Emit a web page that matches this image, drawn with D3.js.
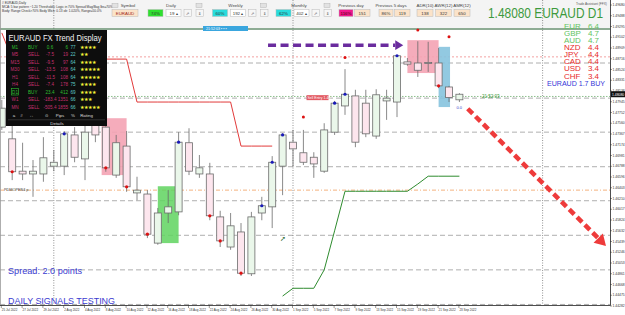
<!DOCTYPE html>
<html lang="en">
<head>
<meta charset="utf-8">
<title>EURAUD D1</title>
<script src="https://d3js.org/d3.v7.min.js"></script>
<style>
  body { margin: 0; background: #fff; }
  #chart1 { width: 625px; height: 315px; }
  svg text { font-family: "Liberation Sans", Arial, sans-serif; }
</style>
</head>
<body>
<div id="chart1"></div>

<script>
    const chartApp = {}

    // daily bars, 25 Jul 2022 .. 23 Sep 2022 (one label every second bar)
    const dateLabels = ["25 Jul 2022","27 Jul 2022","29 Jul 2022","2 Aug 2022","4 Aug 2022","8 Aug 2022",
        "10 Aug 2022","12 Aug 2022","16 Aug 2022","18 Aug 2022","22 Aug 2022","24 Aug 2022","26 Aug 2022",
        "30 Aug 2022","1 Sep 2022","5 Sep 2022","7 Sep 2022","9 Sep 2022","13 Sep 2022","15 Sep 2022",
        "19 Sep 2022","21 Sep 2022","23 Sep 2022"]

    const opens  = [1.4749,1.4728,1.4670,1.4665,1.4665,1.4679,1.4679,1.4735,1.4692,1.4753,1.4749,1.4663,1.4715,1.4631,1.4629,
                    1.4541,1.4595,1.4597,1.4721,1.4665,1.4665,1.4588,1.4534,1.4561,1.4486,1.4595,1.4606,1.4679,1.4722,1.4703,
                    1.4695,1.4670,1.4740,1.4787,1.4805,1.4792,1.4733,1.4796,1.4794,1.4866,1.4864,1.4865,1.4864,1.4821,1.4798]
    const highs  = [1.4798,1.4755,1.4721,1.4690,1.4731,1.4708,1.4742,1.4749,1.4751,1.4765,1.4762,1.4735,1.4742,1.4660,1.4636,
                    1.4604,1.4636,1.4740,1.4747,1.4699,1.4685,1.4599,1.4595,1.4577,1.4597,1.4624,1.4697,1.4738,1.4744,1.4744,
                    1.4704,1.4756,1.4796,1.4853,1.4816,1.4816,1.4817,1.4816,1.4878,1.4873,1.4903,1.4902,1.4891,1.4823,1.4810]
    const lows   = [1.4744,1.4654,1.4654,1.4624,1.4651,1.4670,1.4663,1.4686,1.4654,1.4722,1.4669,1.4658,1.4633,1.4618,1.4550,
                    1.4538,1.4577,1.4591,1.4663,1.4658,1.4582,1.4534,1.4529,1.4482,1.4482,1.4582,1.4568,1.4627,1.4678,1.4681,
                    1.4658,1.4667,1.4735,1.4771,1.4713,1.4731,1.4728,1.4762,1.4767,1.4859,1.4839,1.4848,1.4819,1.4794,1.4794]
    const closes = [1.4783,1.4669,1.4665,1.4670,1.4694,1.4686,1.4737,1.4695,1.4740,1.4735,1.4676,1.4721,1.4642,1.4636,1.4557,
                    1.4595,1.4606,1.4722,1.4670,1.4676,1.4590,1.4545,1.4572,1.4487,1.4588,1.4608,1.4686,1.4735,1.4710,1.4686,
                    1.4683,1.4744,1.4792,1.4808,1.4722,1.4737,1.4807,1.4801,1.4877,1.4862,1.4851,1.4863,1.4823,1.4802,1.4808]

    // signal dots (bar indexes) - blue on bullish closes, red on bearish closes
    const buyDots  = [6,17,25,26,27,32,33,38]
    const sellDots = [1,10,12,14,20,21,23,42]
    const extraDotBars   = [29,33,40,43]
    const extraDotPrices = [1.4767,1.4874,1.4923,1.4911]

    // trailing stop lines, one value per bar (null = no value)
    const redStop = [1.4918,1.4871,1.4871,1.4871,1.4871,1.4871,1.4871,1.4871,1.4871,1.4871,1.4871,1.4871,1.4871,
                     1.4794,1.4794,1.4794,1.4794,1.4794,1.4794,1.4794,1.4794,1.4794,1.4794,1.4715,1.4715,1.4715,1.4715]
    const greenStopStart = 27
    const greenStop = [1.4446,1.4460,1.4460,1.4460,1.4493,1.4563,1.4634,1.4634,1.4634,1.4634,1.4634,1.4634,1.4634,
                       1.4647,1.4661,1.4661,1.4661,1.4661]

    // boxes: bar range + price range
    const zoneKinds  = ["sell","buy","sell","blue"]
    const zoneStart  = [9.6,15,39,42]
    const zoneEnd    = [12,17,42,43.1]
    const zoneTop    = [1.4765,1.4643,1.4905,1.4893]
    const zoneBottom = [1.4663,1.4541,1.4846,1.4785]

    // horizontal levels
    const gridLevels = [1.4864,1.4801,1.4740,1.4678,1.4617,1.4555,1.4493,1.4431]
    const topLevel = 1.4925
    const pinkLevel = 1.4875
    const bidLevel = 1.4804
    const pdOpenLevel = 1.4636
    const sellEntryLevel = 1.4801
    const monthBars = [5,28,52]
    const lastPrice = 1.48080

    // arrows [bar, price] -> [bar, price]
    const purpleArrow = [[25.6,1.4896],[38.6,1.4896]]
    const redArrow = [[44.8,1.4782],[58.1,1.4536]]

    const priceTicks = [1.44282,1.44475,1.44668,1.44861,1.45053,1.45246,1.45439,1.45632,1.45824,1.46017,
                        1.46210,1.46403,1.46596,1.46788,1.46981,1.47174,1.47367,1.47560,1.47752,1.47945,
                        1.48138,1.48331,1.48524,1.48716,1.48909,1.49102,1.49295,1.49488,1.49680]

    // currency strength list
    const currencies = ["EUR","GBP","AUD","NZD","JPY","CAD","USD","CHF"]
    const strengths  = [6.4,4.7,4.7,4.4,4.4,4.4,3.4,3.4]

    // trend display panel
    const tfNames   = ["M1","M5","M15","M30","H1","H4","D1","W1","MN"]
    const tfSignals = ["BUY","SELL","SELL","SELL","SELL","SELL","BUY","SELL","SELL"]
    const tfPips    = ["0.6","-7.5","-9.5","-13.5","-11.5","-7.4","23.4","-183.4","-505.4"]
    const tfRange   = ["6","19","97","108","108","178","412","1351","1855"]
    const tfPct     = ["77","22","64","64","64","75","69","66","66"]
    const tfStars   = [4,2,4,5,5,4,4,3,5]

    // top toolbar
    const infoLines = ["# EURAUD,Daily",
        "MCA: 5 bar pattern ~1.20 Thresholds: Logic in 70% Spread Mag/Bag Ibs=70%",
        "Body: Range Check>70% Body Wick: 0.13 ob: 1.020%, Range=50.0%"]
    const periodNames = ["Daily","Weekly","Monthly"]
    const periodPct   = ["74%","60%","62%"]
    const periodBars  = ["19","192","402"]
    const prevNames = ["Previous day","Previous 5 days"]
    const prevPct   = ["116%","86%"]
    const prevPips  = ["151","119"]
    const rangeNames = ["ADR(10)","AWR(12)","AMR(12)"]
    const rangeVals  = ["138","322","650"]


    chartApp.buildChart = () => {

        d3.select('#chart1').html('')
        var W = 625, H = 315

        var svg = d3.select("#chart1")
            .append("svg")
            .attr("width", W)
            .attr("height", H)

        var plotRight = 610, plotBottom = 305

        var x = d3.scaleLinear().domain([0, 44]).range([1.8, 459.4])
        var y = d3.scaleLinear().domain([1.4430, 1.4977]).range([plotBottom, 0])

        svg.append("rect").attr("width", W).attr("height", H).attr("fill", "#fff")
        svg.append("rect").attr("width", plotRight).attr("height", 28).attr("fill", "#f4f4f4")

        var plot = svg.append("g")

        // grid
        plot.selectAll(".grid").data(gridLevels).enter().append("line")
            .attr("x1", 0).attr("x2", plotRight)
            .attr("y1", d => y(d)).attr("y2", d => y(d))
            .attr("stroke", "#9a9a9a").attr("stroke-width", 0.8).attr("stroke-dasharray", "5,3")

        plot.selectAll(".sep").data(monthBars).enter().append("line")
            .attr("x1", d => x(d)).attr("x2", d => x(d))
            .attr("y1", 0).attr("y2", plotBottom)
            .attr("stroke", "#666").attr("stroke-width", 0.7).attr("stroke-dasharray", "1,1.5")

        // levels
        var level = (p, col, dash, w) => plot.append("line")
            .attr("x1", 0).attr("x2", plotRight).attr("y1", y(p)).attr("y2", y(p))
            .attr("stroke", col).attr("stroke-width", w).attr("stroke-dasharray", dash)
        level(topLevel, "#1f5a2a", null, 1.2)
        level(pinkLevel, "#f08a8a", "2,2", 0.8)
        level(bidLevel, "#6fae6f", "1.5,1.5", 0.8)
        level(pdOpenLevel, "#f0a060", "4,2,1,2", 0.8)

        // zones
        var zoneFill = {sell: "#f4a3b4", buy: "#5fd35f", blue: "#86c3de"}
        plot.selectAll(".zone").data(zoneKinds).enter().append("rect")
            .attr("x", (d, i) => x(zoneStart[i]))
            .attr("width", (d, i) => x(zoneEnd[i]) - x(zoneStart[i]))
            .attr("y", (d, i) => y(zoneTop[i]))
            .attr("height", (d, i) => y(zoneBottom[i]) - y(zoneTop[i]))
            .attr("fill", d => zoneFill[d])
            .attr("opacity", d => d == "buy" ? 0.85 : 0.9)

        // stop lines
        var stopLine = d3.line()
            .defined(d => d[1] != null)
            .x(d => x(d[0])).y(d => y(d[1]))
        plot.append("path")
            .attr("d", stopLine(redStop.map((v, i) => [i, v])))
            .attr("fill", "none").attr("stroke", "#e23a3a").attr("stroke-width", 1)
        plot.append("path")
            .attr("d", stopLine(greenStop.map((v, i) => [greenStopStart + i, v])))
            .attr("fill", "none").attr("stroke", "#2e8b2e").attr("stroke-width", 1)

        // candles
        var bars = opens.map((o, i) => ({i: i, o: o, h: highs[i], l: lows[i], c: closes[i]}))
        var cg = plot.append("g")
        cg.selectAll(".wick").data(bars).enter().append("line")
            .attr("x1", d => x(d.i)).attr("x2", d => x(d.i))
            .attr("y1", d => y(d.h)).attr("y2", d => y(d.l))
            .attr("stroke", "#6b6b6b").attr("stroke-width", 0.8)
        cg.selectAll(".body").data(bars).enter().append("rect")
            .attr("x", d => x(d.i) - 3.5).attr("width", 7)
            .attr("y", d => y(Math.max(d.o, d.c)))
            .attr("height", d => Math.max(1, Math.abs(y(d.o) - y(d.c))))
            .attr("fill", d => d.c >= d.o ? "#eaf7ea" : "#fde6ee")
            .attr("stroke", "#6b6b6b").attr("stroke-width", 0.8)

        // dots
        plot.selectAll(".bdot").data(buyDots).enter().append("circle")
            .attr("cx", d => x(d)).attr("cy", d => y(closes[d])).attr("r", 1.6).attr("fill", "#1a1ab8")
        plot.selectAll(".sdot").data(sellDots).enter().append("circle")
            .attr("cx", d => x(d)).attr("cy", d => y(closes[d])).attr("r", 1.6).attr("fill", "#dd1111")
        plot.selectAll(".xdot").data(extraDotBars).enter().append("circle")
            .attr("cx", d => x(d)).attr("cy", (d, i) => y(extraDotPrices[i])).attr("r", 1.5).attr("fill", "#dd1111")

        // dashed arrows
        var drawArrow = (pts, col, w, dash, head) => {
            var x0 = x(pts[0][0]), y0 = y(pts[0][1]), x1 = x(pts[1][0]), y1 = y(pts[1][1])
            var len = Math.hypot(x1 - x0, y1 - y0), ux = (x1 - x0) / len, uy = (y1 - y0) / len
            var bx = x1 - ux * head, by = y1 - uy * head
            plot.append("line").attr("x1", x0).attr("y1", y0).attr("x2", bx).attr("y2", by)
                .attr("stroke", col).attr("stroke-width", w).attr("stroke-dasharray", dash)
            var hw = head * 0.6
            plot.append("polygon")
                .attr("points", [[x1, y1], [bx - uy * hw, by + ux * hw], [bx + uy * hw, by - ux * hw]].join(" "))
                .attr("fill", col)
        }
        drawArrow(purpleArrow, "#6a2c9e", 3.5, "8,4.5", 8)
        drawArrow(redArrow, "#ee3b3b", 4.5, "7,4", 11)

        // small labels on the chart
        svg.append("text").attr("x", 283).attr("y", 241).attr("font-size", 7)
            .attr("fill", "#1f6a2a").attr("font-family", "DejaVu Sans").attr("text-anchor", "middle").text("➚")
        svg.append("text").attr("x", x(44) - 3).attr("y", y(lows[44]) + 7).attr("font-size", 4)
            .attr("fill", "#3344cc").text("0.0")
        svg.append("text").attr("x", 482).attr("y", y(bidLevel) + 1.5).attr("font-size", 4.5)
            .attr("fill", "#3a9a3a").text("21:52:03")
        svg.append("rect").attr("x", x(29.3)).attr("y", y(sellEntryLevel) - 3).attr("width", 22).attr("height", 5)
            .attr("fill", "#e35a63")
        svg.append("text").attr("x", x(29.3) + 1).attr("y", y(sellEntryLevel) + 1).attr("font-size", 3.5)
            .attr("fill", "#fff").text("Sell Entry 1.48")
        svg.append("text").attr("x", 4).attr("y", y(pdOpenLevel) + 1).attr("font-size", 3.8)
            .attr("fill", "#444").text("PDMOPEN4 p")
        svg.append("rect").attr("x", 203).attr("y", 26).attr("width", 45).attr("height", 5).attr("fill", "#3aa6de")
        svg.append("text").attr("x", 206).attr("y", 30).attr("font-size", 3.6).attr("fill", "#fff").text("21:52:03  ▪  ▪  ▪")

        // axes
        svg.append("line").attr("x1", plotRight + 0.5).attr("x2", plotRight + 0.5).attr("y1", 0).attr("y2", plotBottom + 0.5)
            .attr("stroke", "#222").attr("stroke-width", 0.8)
        svg.append("line").attr("x1", 0).attr("x2", plotRight + 0.5).attr("y1", plotBottom + 0.5).attr("y2", plotBottom + 0.5)
            .attr("stroke", "#222").attr("stroke-width", 0.8)
        svg.append("line").attr("x1", 0.5).attr("x2", 0.5).attr("y1", 0).attr("y2", plotBottom)
            .attr("stroke", "#999").attr("stroke-width", 0.8)

        var yAxis = svg.append("g")
        yAxis.selectAll("text").data(priceTicks).enter().append("text")
            .attr("x", plotRight + 2.5).attr("y", d => y(d) + 1.2)
            .attr("font-size", 3.4).attr("fill", "#333").text(d => d.toFixed(5))
        yAxis.selectAll("line").data(priceTicks).enter().append("line")
            .attr("x1", plotRight).attr("x2", plotRight + 2).attr("y1", d => y(d)).attr("y2", d => y(d))
            .attr("stroke", "#333").attr("stroke-width", 0.5)
        svg.append("rect").attr("x", plotRight + 1).attr("y", y(lastPrice) - 3).attr("width", 14).attr("height", 6).attr("fill", "#111")
        svg.append("text").attr("x", plotRight + 2).attr("y", y(lastPrice) + 1.3).attr("font-size", 3.4)
            .attr("fill", "#fff").text(lastPrice.toFixed(5))

        var xAxis = svg.append("g")
        xAxis.selectAll("text").data(dateLabels).enter().append("text")
            .attr("x", (d, i) => x(i * 2)).attr("y", plotBottom + 6)
            .attr("font-size", 3).attr("fill", "#333").text(d => d)
        xAxis.selectAll("line").data(dateLabels).enter().append("line")
            .attr("x1", (d, i) => x(i * 2) - 0.5).attr("x2", (d, i) => x(i * 2) - 0.5)
            .attr("y1", plotBottom).attr("y2", plotBottom + 3)
            .attr("stroke", "#333").attr("stroke-width", 0.5)

        // blue notes bottom left
        svg.append("text").attr("x", 8).attr("y", 273.5).attr("font-size", 9.5)
            .attr("textLength", 74).attr("lengthAdjust", "spacingAndGlyphs")
            .attr("fill", "#3b3bd0").text("Spread: 2.0 points")
        svg.append("text").attr("x", 8).attr("y", 304).attr("font-size", 9.5)
            .attr("textLength", 107).attr("lengthAdjust", "spacingAndGlyphs")
            .attr("fill", "#3b3bd0").text("DAILY SIGNALS TESTING")

        // currency strength
        var cs = svg.append("g")
        currencies.forEach(function(c, i) {
            var col = i < 3 ? "#62c462" : "#e82a2a"
            cs.append("text").attr("x", 564).attr("y", 28.8 + i * 7.1).attr("font-size", 8)
                .attr("fill", col).text(c)
            cs.append("text").attr("x", 599).attr("y", 28.8 + i * 7.1).attr("font-size", 8)
                .attr("text-anchor", "end").attr("fill", col).text(strengths[i].toFixed(1))
        })
        cs.append("text").attr("x", 605).attr("y", 85.6).attr("font-size", 8)
            .attr("text-anchor", "end").attr("textLength", 58).attr("lengthAdjust", "spacingAndGlyphs")
            .attr("fill", "#3535d8").text("EURAUD 1.7 BUY")

        // big price header
        svg.append("text").attr("x", 488).attr("y", 17.5).attr("font-size", 14)
            .attr("textLength", 115).attr("lengthAdjust", "spacingAndGlyphs")
            .attr("fill", "#3d9a3d").text(lastPrice.toFixed(5) + " EURAUD D1")
        svg.append("text").attr("x", 576).attr("y", 4.5).attr("font-size", 3.2).attr("fill", "#555").text("Trade Assistant (FFX)")

        // toolbar
        var tb = svg.append("g")
        var box = (x0, w, fill, txt, tcol) => {
            tb.append("rect").attr("x", x0).attr("y", 9.5).attr("width", w).attr("height", 7)
                .attr("fill", fill).attr("stroke", "#b9b9b9").attr("stroke-width", 0.5)
            tb.append("text").attr("x", x0 + w / 2).attr("y", 14.6).attr("text-anchor", "middle")
                .attr("font-size", 4.4).attr("fill", tcol || "#333").text(txt)
        }
        var label = (cx, txt) => tb.append("text").attr("x", cx).attr("y", 7).attr("text-anchor", "middle")
            .attr("font-size", 4.4).attr("fill", "#444").text(txt)
        var tiny = (x0) => tb.append("rect").attr("x", x0).attr("y", 3.5).attr("width", 6).attr("height", 4)
            .attr("fill", "#e2e2e2").attr("stroke", "#aaa").attr("stroke-width", 0.4)

        infoLines.forEach(function(t, i) {
            tb.append("text").attr("x", 2).attr("y", 4 + i * 3.8).attr("font-size", 3.2).attr("fill", "#333").text(t)
        })

        tiny(112)
        label(128, "Symbol")
        box(112, 26, "#fbe3c9", "EURAUD", "#a02818")

        var pctX = [148, 212.5, 276]
        var pctFill = ["#2fe02f", "#28dcdc", "#28dcdc"]
        periodNames.forEach(function(n, i) {
            var p = pctX[i]
            label(p + 23, n)
            tiny(p + 48)
            box(p, 15, pctFill[i], periodPct[i])
            box(p + 18, 15, "#fff", periodBars[i] + "  ▴")
            box(p + 36, 7.5, "#f6f6f6", "⇗")
            box(p + 48, 7.5, "#f6f6f6", "⇓")
        })
        var prevX = [339, 379]
        prevNames.forEach(function(n, i) {
            var p = prevX[i]
            label(p + 12, n)
            box(p, 14, i == 0 ? "#f0168c" : "#fbe3c9", prevPct[i], i == 0 ? "#400" : "#333")
            box(p + 15.5, 15.5, "#fbe3c9", prevPips[i])
        })
        var rangeX = [417, 435.5, 454]
        rangeNames.forEach(function(n, i) {
            label(rangeX[i] + 8, n)
            box(rangeX[i], 16, "#fbe3c9", rangeVals[i])
        })

        // trend display panel
        var pn = svg.append("g")
        pn.append("rect").attr("x", 6).attr("y", 30).attr("width", 101).attr("height", 96).attr("fill", "#0d0d0d")
        pn.append("text").attr("x", 8.5).attr("y", 40.5).attr("font-size", 9.5)
            .attr("textLength", 93).attr("lengthAdjust", "spacingAndGlyphs")
            .attr("fill", "#f2f2f2").text("EURAUD FX Trend Display")
        tfNames.forEach(function(n, i) {
            var yy = 48.5 + i * 7.5
            var buy = tfSignals[i] == "BUY"
            var col = buy ? "#2fbf2f" : "#c4306e"
            pn.append("text").attr("x", 15).attr("y", yy).attr("font-size", 4.6).attr("text-anchor", "middle").attr("fill", col).text(n)
            pn.append("text").attr("x", 28).attr("y", yy).attr("font-size", 4.6).attr("fill", col).text(tfSignals[i])
            pn.append("text").attr("x", 50).attr("y", yy).attr("font-size", 4.6).attr("text-anchor", "middle").attr("fill", col).text(tfPips[i])
            pn.append("text").attr("x", 68).attr("y", yy).attr("font-size", 4.6).attr("text-anchor", "end").attr("fill", col).text(tfRange[i])
            pn.append("text").attr("x", 70.5).attr("y", yy).attr("font-size", 4.6).attr("fill", "#5fc8c8").text(tfPct[i])
            pn.append("text").attr("x", 80).attr("y", yy).attr("font-size", 4.8).attr("font-family", "DejaVu Sans")
                .attr("fill", "#f5f53a").text("★".repeat(tfStars[i]))
            if (n == "D1") {
                pn.append("rect").attr("x", 11.5).attr("y", yy - 5).attr("width", 7).attr("height", 6.5)
                    .attr("fill", "none").attr("stroke", "#2fbf2f").attr("stroke-width", 0.6)
            }
        })
        var foot = ["a", "#", "↔", "⊙", "Pips", "%", "Rating"]
        var footX = [14, 21.5, 31.5, 46.5, 60, 73, 86.5]
        foot.forEach(function(t, i) {
            pn.append("text").attr("x", footX[i]).attr("y", 117).attr("font-size", 4.4).attr("text-anchor", "middle")
                .attr("font-family", "DejaVu Sans").attr("fill", "#ddd").text(t)
        })
        pn.append("line").attr("x1", 8).attr("x2", 105).attr("y1", 119.8).attr("y2", 119.8).attr("stroke", "#555").attr("stroke-width", 0.5)
        pn.append("text").attr("x", 57).attr("y", 125).attr("font-size", 4.4).attr("text-anchor", "middle")
            .attr("fill", "#ddd").text("Details")
    }

    chartApp.init = () => {
        chartApp.buildChart()
    }
    chartApp.init()
</script>
</body>
</html>
